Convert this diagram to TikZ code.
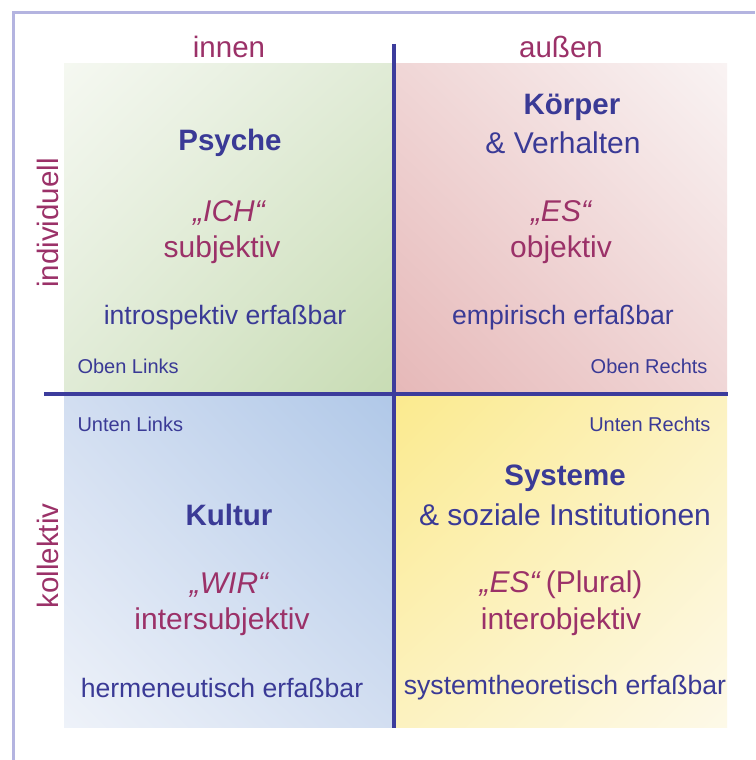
\documentclass[tikz,border=0pt]{standalone}
\usepackage{fontspec}
\setmainfont{Liberation Sans}
\usetikzlibrary{shadings}
\definecolor{frame}{HTML}{B4B4E0}
\definecolor{divider}{HTML}{3C3C9C}
\definecolor{navy}{HTML}{3A3A96}
\definecolor{maroon}{HTML}{9B3168}
\definecolor{gdeep}{HTML}{C8DCB4}
\definecolor{gmid}{HTML}{E0EBD6}
\definecolor{glight}{HTML}{F5F8F1}
\definecolor{pdeep}{HTML}{E6B8B8}
\definecolor{pmid}{HTML}{F0D6D6}
\definecolor{plight}{HTML}{F9F3F3}
\definecolor{bdeep}{HTML}{B0C8E8}
\definecolor{bmid}{HTML}{D2DEF1}
\definecolor{blight}{HTML}{EEF2F9}
\definecolor{ydeep}{HTML}{FBEA8E}
\definecolor{ymid}{HTML}{FCF2C0}
\definecolor{ylight}{HTML}{FDF9E8}
\tikzset{
  bigbold/.style={text=navy, font=\fontsize{29.5}{34}\selectfont\bfseries, align=center},
  bigreg/.style={text=navy, font=\fontsize{30}{35}\selectfont, align=center},
  mar/.style={text=maroon, font=\fontsize{30}{35}\selectfont, align=center},
  method/.style={text=navy, font=\fontsize{26.6}{32}\selectfont},
  corner/.style={text=navy, font=\fontsize{20}{24}\selectfont},
  axis/.style={text=maroon, font=\fontsize{29.5}{34}\selectfont},
  divline/.style={draw=divider, line width=4.5pt},
  frameline/.style={draw=frame, line width=3pt}
}
\begin{document}
\begin{tikzpicture}[x=1pt,y=-1pt]
\useasboundingbox (0,0) rectangle (755,760);
\fill[white] (0,0) rectangle (755,760);
% frame
\coordinate (ftl) at (13,13);
\coordinate (ftr) at (755,13);
\coordinate (fbl) at (13,760);
\draw[frameline] (fbl) -- (ftl) -- (ftr);
% quadrants
\shade[upper left=glight, upper right=gmid, lower left=gmid, lower right=gdeep] (64,64) rectangle (394,394);
\shade[upper left=pmid, upper right=plight, lower left=pdeep, lower right=pmid] (394,64) rectangle (727,394);
\shade[upper left=bmid, upper right=bdeep, lower left=blight, lower right=bmid] (64,394) rectangle (394,727);
\shade[upper left=ydeep, upper right=ymid, lower left=ymid, lower right=ylight] (394,394) rectangle (727,727);
% dividers
\coordinate (vt) at (394,44);
\coordinate (vb) at (394,728);
\coordinate (hl) at (44,394);
\coordinate (hr) at (728,394);
\draw[divline] (vt) -- (vb);
\draw[divline] (hl) -- (hr);
% axis labels
\node[axis] (innen) at (229,47) {innen};
\node[axis] (aussen) at (561,47) {außen};
\node[axis, rotate=90] (indiv) at (48,223) {individuell};
\node[axis, rotate=90] (kollek) at (48,556) {kollektiv};
% top left
\node[bigbold] (psyche) at (230,143) {Psyche};
\node[mar] (ich) at (229,213) {\itshape „ICH“};
\node[mar] (subj) at (222,250) {subjektiv};
\node[method] (intro) at (225,318) {introspektiv erfaßbar};
\node[corner, anchor=west] (ol) at (74,366) {Oben Links};
% top right
\node[bigbold] (koerper) at (572,107) {Körper};
\node[bigreg] (verh) at (563,143) {\& Verhalten};
\node[mar] (es) at (561,213) {\itshape „ES“};
\node[mar] (obj) at (561,250) {objektiv};
\node[method] (emp) at (563,318) {empirisch erfaßbar};
\node[corner, anchor=east] (or) at (711,366) {Oben Rechts};
% bottom left
\node[corner, anchor=west] (ul) at (74,424) {Unten Links};
\node[bigbold] (kultur) at (229,515) {Kultur};
\node[mar] (wir) at (229,585) {\itshape „WIR“};
\node[mar] (intersub) at (222,622) {intersubjektiv};
\node[method] (herm) at (222,688) {hermeneutisch erfaßbar};
% bottom right
\node[corner, anchor=east] (ur) at (714,424) {Unten Rechts};
\node[bigbold] (sys) at (565,478) {Systeme};
\node[bigreg] (soz) at (565,515) {\& soziale Institutionen};
\node[mar] (esp) at (561,585) {\textit{„ES“}\,(Plural)};
\node[mar] (interobj) at (561,622) {interobjektiv};
\node[method] (systh) at (565,688) {systemtheoretisch erfaßbar};
\end{tikzpicture}
\end{document}
